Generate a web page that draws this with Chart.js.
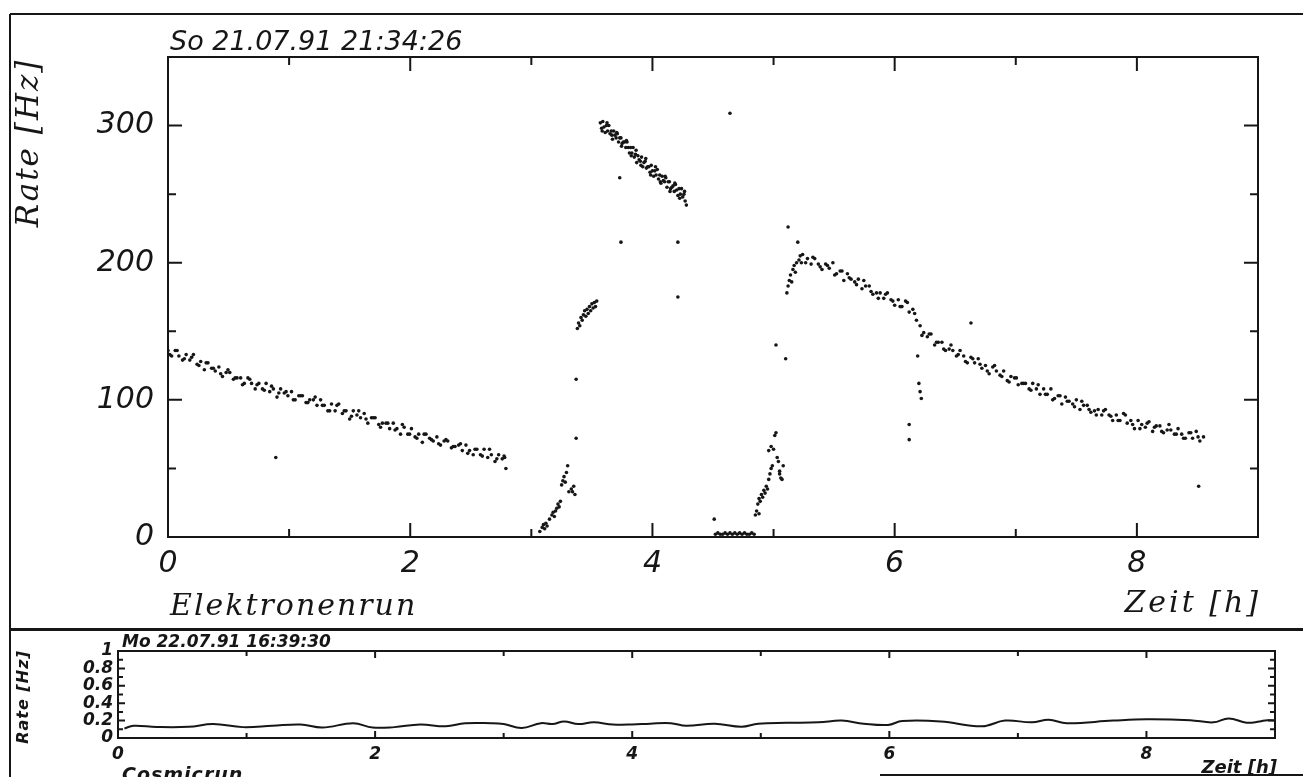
<!DOCTYPE html>
<html><head><meta charset="utf-8">
<script src="https://cdn.jsdelivr.net/npm/chart.js@4.4.0/dist/chart.umd.min.js"></script>
<style>
html,body{margin:0;padding:0;background:#fff;overflow:hidden;width:1303px;height:777px}
canvas{position:absolute;left:0}
</style></head>
<body>
<canvas id="main" width="1303" height="627" style="top:0"></canvas>
<canvas id="cosmic" width="1303" height="150" style="top:627px"></canvas>
<script>
// ---------- texts ----------
const mainTitle = 'So 21.07.91 21:34:26';
const mainRunLabel = 'Elektronenrun';
const xAxisTitle = 'Zeit [h]';
const yAxisTitle = 'Rate [Hz]';
const cosmicTitle = 'Mo 22.07.91 16:39:30';
const cosmicRunLabel = 'Cosmicrun';

// ---------- tick values ----------
const mainXTicks = [0, 2, 4, 6, 8];
const mainXMinor = [1, 3, 5, 7];
const mainYTicks = [0, 100, 200, 300];
const mainYMinor = [50, 150, 250];
const cosmicXTicks = [0, 2, 4, 6, 8];
const cosmicXMinor = [1, 3, 5, 7];
const cosmicYTicks = [0, 0.2, 0.4, 0.6, 0.8, 1];
const cosmicYLabels = ['0', '0.2', '0.4', '0.6', '0.8', '1'];
const cosmicYMinor = [0.1, 0.3, 0.5, 0.7, 0.9];

// ---------- Elektronenrun: [Zeit h, Rate Hz] ----------
const seg1A = [[0.00,136],[0.03,132],[0.06,136],[0.09,132],[0.12,129],[0.15,133],[0.18,129],[0.21,133],[0.24,126],[0.27,128],[0.30,122],[0.33,127],[0.36,123],[0.39,121],[0.42,124],[0.45,117],[0.48,120],[0.51,120],[0.54,115],[0.57,116],[0.60,116],[0.63,112],[0.66,116],[0.69,112],[0.72,108],[0.75,112],[0.78,108],[0.81,112],[0.84,106],[0.87,108],[0.90,102],[0.93,108],[0.96,105],[0.99,103],[1.02,106],[1.05,100],[1.08,103],[1.11,103],[1.14,98],[1.17,100],[1.20,100],[1.23,96],[1.26,100],[1.29,96],[1.32,92],[1.35,97],[1.38,92],[1.41,97],[1.44,90],[1.47,92],[1.50,86],[1.53,92],[1.56,89],[1.59,87],[1.62,90],[1.65,83],[1.68,87],[1.71,87],[1.74,82],[1.77,83],[1.80,83],[1.83,79],[1.86,83],[1.89,79],[1.92,75],[1.95,80],[1.98,75],[2.01,79],[2.04,73],[2.07,75],[2.10,69],[2.13,75],[2.16,72],[2.19,70],[2.22,73],[2.25,67],[2.28,70],[2.31,70],[2.34,65],[2.37,66],[2.40,67],[2.43,63],[2.46,67],[2.49,63],[2.52,60],[2.55,64],[2.58,60],[2.61,64],[2.64,58],[2.67,60],[2.70,55],[2.73,60],[2.76,57],[2.78,58]];
const seg1B = [[0.015,133],[0.075,136],[0.135,130],[0.195,131],[0.255,125],[0.315,127],[0.375,123],[0.435,119],[0.495,122],[0.555,116],[0.615,111],[0.675,115],[0.735,111],[0.795,107],[0.855,110],[0.915,105],[0.975,106],[1.035,100],[1.095,103],[1.155,98],[1.215,102],[1.275,96],[1.335,92],[1.395,96],[1.455,92],[1.515,88],[1.575,92],[1.635,86],[1.695,87],[1.755,80],[1.815,83],[1.875,78],[1.935,82],[1.995,75],[2.055,72],[2.115,75],[2.175,71],[2.235,68],[2.295,71],[2.355,66],[2.415,68],[2.475,61],[2.535,64],[2.595,59],[2.655,64],[2.715,57],[2.775,59],[0.89,58],[2.79,50]];
const riseA = [[3.07,4],[3.09,7],[3.10,9],[3.11,6],[3.12,10],[3.13,8],[3.15,13],[3.17,16],[3.18,18],[3.19,15],[3.20,19],[3.21,21],[3.22,24],[3.23,22],[3.24,26],[3.25,38],[3.26,41],[3.27,44],[3.28,40],[3.29,47],[3.30,52],[3.31,33],[3.33,35],[3.34,33],[3.35,37],[3.36,31],[3.37,72],[3.37,115],[3.38,152],[3.39,156],[3.40,154],[3.41,160],[3.42,158],[3.43,162],[3.44,165],[3.45,161],[3.46,166],[3.47,163],[3.48,168],[3.49,165],[3.50,170],[3.51,167],[3.52,171],[3.53,168],[3.54,172]];
const band300 = [[3.57,302],[3.58,298],[3.59,303],[3.60,299],[3.61,295],[3.62,300],[3.63,296],[3.64,300],[3.65,294],[3.66,296],[3.67,290],[3.68,296],[3.69,293],[3.70,291],[3.71,294],[3.72,288],[3.73,291],[3.74,291],[3.75,287],[3.76,288],[3.77,288],[3.78,284],[3.79,288],[3.80,284],[3.81,280],[3.82,284],[3.83,280],[3.84,284],[3.85,277],[3.86,279],[3.87,273],[3.88,278],[3.89,275],[3.90,274],[3.91,277],[3.92,270],[3.93,273],[3.94,274],[3.95,269],[3.96,270],[3.97,270],[3.98,266],[3.99,271],[4.00,267],[4.01,263],[4.02,267],[4.03,264],[4.04,268],[4.05,261],[4.06,264],[4.07,258],[4.08,263],[4.09,260],[4.10,259],[4.11,262],[4.12,255],[4.13,259],[4.14,259],[4.15,254],[4.16,255],[4.17,256],[4.18,252],[4.19,257],[4.20,253],[4.21,249],[4.22,254],[4.23,250],[4.24,254],[4.25,248],[4.26,250],[4.27,245],[4.28,242]];
const band300B = [[3.585,296],[3.625,302],[3.665,293],[3.705,295],[3.745,285],[3.785,289],[3.825,278],[3.865,282],[3.905,271],[3.945,276],[3.985,264],[4.025,270],[4.065,259],[4.105,263],[4.145,252],[4.185,258],[4.225,247],[4.265,252],[3.73,262],[3.74,215],[4.21,215],[4.21,175],[4.64,309]];
const zeroBar = [[4.51,13],[4.52,2],[4.54,3],[4.56,2],[4.58,2],[4.60,3],[4.62,2],[4.64,3],[4.66,2],[4.68,3],[4.70,2],[4.72,3],[4.74,2],[4.76,3],[4.78,2],[4.80,2],[4.82,3],[4.84,2]];
const riseB = [[4.85,16],[4.86,19],[4.87,24],[4.88,17],[4.88,28],[4.89,26],[4.90,31],[4.91,29],[4.92,34],[4.93,32],[4.94,37],[4.95,35],[4.96,42],[4.96,63],[4.97,46],[4.98,50],[4.98,66],[4.99,52],[5.00,64],[5.01,74],[5.02,76],[5.02,140],[5.03,58],[5.04,55],[5.05,48],[5.05,46],[5.06,43],[5.07,42],[5.08,52],[5.10,130]];
const decayA = [[5.11,178],[5.12,183],[5.12,226],[5.13,187],[5.14,191],[5.15,186],[5.16,195],[5.17,198],[5.18,193],[5.19,200],[5.20,215],[5.21,202],[5.22,205],[5.23,200],[5.24,206],[5.28,203],[5.31,199],[5.34,203],[5.37,199],[5.40,195],[5.43,199],[5.46,196],[5.49,200],[5.52,192],[5.55,194],[5.58,187],[5.61,192],[5.64,188],[5.67,186],[5.70,188],[5.73,181],[5.76,183],[5.79,183],[5.82,177],[5.85,178],[5.88,178],[5.91,174],[5.94,178],[5.97,173],[6.00,169],[6.03,173],[6.06,168],[6.09,172],[6.12,164],[6.15,166],[6.18,158],[6.21,154],[6.24,149],[6.27,146],[6.30,148],[6.33,140],[6.36,142],[6.39,142],[6.42,136],[6.45,137],[6.48,136],[6.51,132],[6.54,136],[6.57,132],[6.60,127],[6.63,131],[6.66,127],[6.69,130],[6.72,123],[6.75,125],[6.78,119],[6.81,124],[6.84,121],[6.87,118],[6.90,121],[6.93,114],[6.96,117],[6.99,116],[7.02,111],[7.05,112],[7.08,112],[7.11,108],[7.14,112],[7.17,108],[7.20,104],[7.23,108],[7.26,104],[7.29,108],[7.32,101],[7.35,103],[7.38,97],[7.41,102],[7.44,99],[7.47,97],[7.50,100],[7.53,93],[7.56,96],[7.59,96],[7.62,91],[7.65,92],[7.68,93],[7.71,89],[7.74,93],[7.77,89],[7.80,85],[7.83,89],[7.86,85],[7.89,90],[7.92,83],[7.95,85],[7.98,79],[8.01,85],[8.04,82],[8.07,80],[8.10,84],[8.13,77],[8.16,81],[8.19,81],[8.22,76],[8.25,78],[8.28,78],[8.31,75],[8.34,79],[8.37,75],[8.40,72],[8.43,76],[8.46,72],[8.49,77],[8.52,70],[8.55,73]];
const decayB = [[5.265,200],[5.325,204],[5.385,197],[5.445,198],[5.505,191],[5.565,194],[5.625,189],[5.685,184],[5.745,187],[5.805,179],[5.865,174],[5.925,177],[5.985,172],[6.045,168],[6.105,171],[6.165,163],[6.225,147],[6.285,148],[6.345,142],[6.405,137],[6.465,140],[6.525,133],[6.585,128],[6.645,130],[6.705,126],[6.765,121],[6.825,125],[6.885,117],[6.945,113],[7.005,116],[7.065,112],[7.125,107],[7.185,111],[7.245,104],[7.305,100],[7.365,103],[7.425,99],[7.485,95],[7.545,99],[7.605,93],[7.665,89],[7.725,92],[7.785,88],[7.845,85],[7.905,89],[7.965,82],[8.025,79],[8.085,83],[8.145,80],[8.205,77],[8.265,82],[8.325,75],[8.385,72],[8.445,76],[8.505,73],[6.12,82],[6.12,71],[6.19,132],[6.20,112],[6.21,106],[6.22,101],[6.63,156],[8.51,37]];

// ---------- Cosmicrun ----------
const cosmicTime = [0.05,0.12,0.30,0.55,0.74,0.97,1.20,1.42,1.59,1.83,1.98,2.15,2.35,2.55,2.70,2.90,3.00,3.14,3.29,3.38,3.47,3.58,3.70,3.85,4.00,4.14,4.30,4.42,4.64,4.85,4.98,5.20,5.45,5.63,5.80,5.99,6.10,6.40,6.72,6.90,7.11,7.24,7.38,7.74,8.00,8.34,8.52,8.64,8.78,8.88,8.94,9.00];
const cosmicRate = [0.11,0.14,0.126,0.128,0.16,0.125,0.14,0.155,0.12,0.17,0.12,0.125,0.155,0.135,0.17,0.17,0.16,0.115,0.17,0.16,0.19,0.16,0.18,0.155,0.155,0.165,0.17,0.14,0.165,0.13,0.165,0.175,0.18,0.2,0.165,0.15,0.195,0.19,0.135,0.2,0.18,0.21,0.17,0.2,0.215,0.205,0.18,0.225,0.175,0.19,0.205,0.2];

const INK = '#161616';
Chart.defaults.devicePixelRatio = 1;

const mainPoints = [...seg1A, ...seg1B, ...riseA, ...band300, ...band300B, ...zeroBar, ...riseB, ...decayA, ...decayB].map(([x, y]) => ({x, y}));
const cosmicPoints = cosmicTime.map((t, i) => ({x: t, y: cosmicRate[i]}));

function drawText(ctx, s, x, y, font, align, spacing, rot) {
  ctx.save();
  ctx.font = font; ctx.fillStyle = INK; ctx.textAlign = align; ctx.textBaseline = 'alphabetic';
  if ('letterSpacing' in ctx) ctx.letterSpacing = spacing + 'px';
  ctx.translate(x, y);
  if (rot) ctx.rotate(rot);
  ctx.fillText(s, 0, 0);
  ctx.restore();
}

function drawInward(chart, t) {
  const {ctx, chartArea: a, scales: {x, y}} = chart;
  ctx.save();
  ctx.strokeStyle = INK; ctx.lineWidth = t.lw; ctx.lineCap = 'square';
  ctx.strokeRect(a.left, a.top, a.right - a.left, a.bottom - a.top);
  ctx.beginPath();
  const vx = (vals, L) => vals.forEach(v => { const p = x.getPixelForValue(v); ctx.moveTo(p, a.bottom); ctx.lineTo(p, a.bottom - L); ctx.moveTo(p, a.top); ctx.lineTo(p, a.top + L); });
  const vy = (vals, L) => vals.forEach(v => { const p = y.getPixelForValue(v); ctx.moveTo(a.left, p); ctx.lineTo(a.left + L, p); ctx.moveTo(a.right, p); ctx.lineTo(a.right - L, p); });
  vx(t.xMajor, t.major); vx(t.xMinor, t.minor); vy(t.yMajor, t.major); vy(t.yMinor, t.minor);
  ctx.stroke();
  ctx.restore();
}

const mainDecor = {
  id: 'mainDecor',
  afterDraw(chart) {
    const ctx = chart.ctx;
    drawInward(chart, {lw: 2, major: 13, minor: 7, xMajor: mainXTicks, xMinor: mainXMinor, yMajor: mainYTicks, yMinor: mainYMinor});
    ctx.save();
    ctx.strokeStyle = INK; ctx.lineWidth = 2;
    ctx.beginPath();
    ctx.moveTo(10, 14); ctx.lineTo(1303, 14);
    ctx.moveTo(10, 14); ctx.lineTo(10, 627);
    ctx.stroke();
    ctx.restore();
    drawText(ctx, mainTitle, 170, 50, 'italic 27px "DejaVu Sans"', 'left', 0);
    drawText(ctx, mainRunLabel, 170, 615, 'italic 30px "DejaVu Serif"', 'left', 2);
    drawText(ctx, xAxisTitle, 1261, 612, 'italic 30px "DejaVu Serif"', 'right', 3);
    drawText(ctx, yAxisTitle, 38, 143, 'italic 31px "DejaVu Serif"', 'center', 2, -Math.PI / 2);
  }
};

const cosmicDecor = {
  id: 'cosmicDecor',
  afterDraw(chart) {
    const ctx = chart.ctx;
    drawInward(chart, {lw: 2, major: 6, minor: 4, xMajor: cosmicXTicks, xMinor: cosmicXMinor, yMajor: cosmicYTicks, yMinor: cosmicYMinor});
    ctx.save();
    ctx.strokeStyle = INK;
    ctx.lineWidth = 3;
    ctx.beginPath(); ctx.moveTo(10, 2.5); ctx.lineTo(1303, 2.5); ctx.stroke();
    ctx.lineWidth = 2;
    ctx.beginPath(); ctx.moveTo(10, 0); ctx.lineTo(10, 150);
    ctx.moveTo(880, 148); ctx.lineTo(1303, 148); ctx.stroke();
    ctx.restore();
    drawText(ctx, cosmicTitle, 122, 20, 'italic bold 17px "DejaVu Sans"', 'left', 0);
    drawText(ctx, cosmicRunLabel, 122, 154, 'italic bold 19px "DejaVu Sans"', 'left', 1);
    drawText(ctx, xAxisTitle, 1277, 146, 'italic bold 18px "DejaVu Sans"', 'right', 0);
    drawText(ctx, yAxisTitle, 28, 70, 'italic bold 16px "DejaVu Sans"', 'center', 1, -Math.PI / 2);
  }
};

new Chart(document.getElementById('main'), {
  type: 'scatter',
  data: {datasets: [{data: mainPoints, pointRadius: 1.8, pointBackgroundColor: INK, pointBorderWidth: 0, showLine: false}]},
  options: {
    responsive: false, animation: false, events: [],
    layout: {padding: {left: 0, top: 57, right: 45, bottom: 0}},
    plugins: {legend: {display: false}, tooltip: {enabled: false}},
    scales: {
      x: {
        type: 'linear', min: 0, max: 9,
        grid: {display: false, drawTicks: false}, border: {display: false},
        afterBuildTicks: s => { s.ticks = mainXTicks.map(v => ({value: v})); },
        afterFit: s => { s.height = 90; },
        ticks: {autoSkip: false, maxRotation: 0, padding: 9, color: INK,
          font: {family: 'DejaVu Sans', size: 30, style: 'italic'}, callback: v => String(v)}
      },
      y: {
        type: 'linear', min: 0, max: 350,
        grid: {display: false, drawTicks: false}, border: {display: false},
        afterBuildTicks: s => { s.ticks = mainYTicks.map(v => ({value: v})); },
        afterFit: s => { s.width = 168; },
        ticks: {autoSkip: false, padding: 14, color: INK,
          font: {family: 'DejaVu Sans', size: 30, style: 'italic'}, callback: v => String(v)}
      }
    }
  },
  plugins: [mainDecor]
});

new Chart(document.getElementById('cosmic'), {
  type: 'scatter',
  data: {datasets: [{data: cosmicPoints, showLine: true, borderColor: INK, borderWidth: 2, pointRadius: 0, tension: 0.4, fill: false}]},
  options: {
    responsive: false, animation: false, events: [],
    layout: {padding: {left: 0, top: 24, right: 28, bottom: 0}},
    plugins: {legend: {display: false}, tooltip: {enabled: false}},
    scales: {
      x: {
        type: 'linear', min: 0, max: 9,
        grid: {display: false, drawTicks: false}, border: {display: false},
        afterBuildTicks: s => { s.ticks = cosmicXTicks.map(v => ({value: v})); },
        afterFit: s => { s.height = 39; },
        ticks: {autoSkip: false, maxRotation: 0, padding: 6, color: INK,
          font: {family: 'DejaVu Sans', size: 17, style: 'italic', weight: 'bold'}, callback: v => String(v)}
      },
      y: {
        type: 'linear', min: 0, max: 1,
        grid: {display: false, drawTicks: false}, border: {display: false},
        afterBuildTicks: s => { s.ticks = cosmicYTicks.map(v => ({value: v})); },
        afterFit: s => { s.width = 118; },
        ticks: {autoSkip: false, padding: 5, color: INK,
          font: {family: 'DejaVu Sans', size: 17, style: 'italic', weight: 'bold'}, callback: (v, i) => cosmicYLabels[i]}
      }
    }
  },
  plugins: [cosmicDecor]
});
</script>
</body></html>
